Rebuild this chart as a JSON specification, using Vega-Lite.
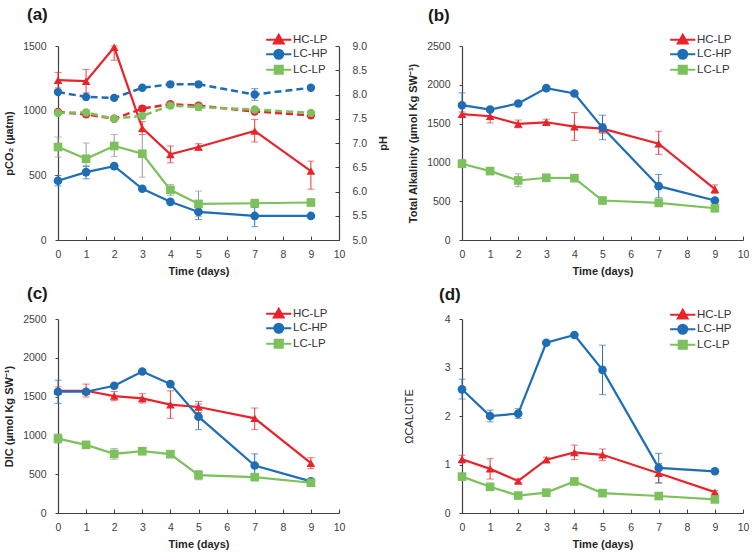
{
  "$schema": "https://vega.github.io/schema/vega-lite/v6.json",
  "padding": {"left": 3, "top": 6, "right": 0, "bottom": 2},
  "background": "white",
  "config": {
    "font": "Liberation Sans",
    "view": {"stroke": null},
    "axis": {"grid": false, "labelFont": "Liberation Sans", "labelFontSize": 10.5, "labelColor": "#404040", "titleFont": "Liberation Sans", "titleFontSize": 11, "titleFontWeight": "bold", "titleColor": "#262626", "domainColor": "#404040", "tickColor": "#404040", "domainWidth": 1.2, "tickWidth": 1, "labelOverlap": false, "labelFlush": false},
    "axisX": {"tickSize": -4, "labelPadding": 13, "titlePadding": 6},
    "axisY": {"tickSize": 3, "labelPadding": 9, "titlePadding": 8},
    "legend": {"orient": "none", "title": null, "labelFontSize": 11.5, "labelColor": "#333333", "labelFont": "Liberation Sans", "symbolSize": 81, "symbolStrokeWidth": 2, "rowPadding": -2.5, "labelOffset": 8.5},
    "title": {"font": "Liberation Sans", "fontSize": 17, "fontWeight": "bold", "color": "#1a1a1a", "anchor": "start", "frame": "group"}
  },
  "datasets": {
    "main": [
      {"p":"a","s":"HC-LP","t":0,"v":1236,"lo":1176,"hi":1296},{"p":"a","s":"HC-LP","t":1,"v":1228,"lo":1138,"hi":1318},{"p":"a","s":"HC-LP","t":2,"v":1490,"lo":1390,"hi":1500},{"p":"a","s":"HC-LP","t":3,"v":865,"lo":815,"hi":915},{"p":"a","s":"HC-LP","t":4,"v":662,"lo":597,"hi":727},{"p":"a","s":"HC-LP","t":5,"v":719,"lo":694,"hi":744},{"p":"a","s":"HC-LP","t":7,"v":843,"lo":758,"hi":931},{"p":"a","s":"HC-LP","t":9,"v":533,"lo":393,"hi":610},
      {"p":"a","s":"LC-HP","t":0,"v":458,"lo":418,"hi":498},{"p":"a","s":"LC-HP","t":1,"v":525,"lo":473,"hi":569},{"p":"a","s":"LC-HP","t":2,"v":571,"lo":560,"hi":582},{"p":"a","s":"LC-HP","t":3,"v":396,"lo":390,"hi":402},{"p":"a","s":"LC-HP","t":4,"v":295,"lo":288,"hi":302},{"p":"a","s":"LC-HP","t":5,"v":217,"lo":158,"hi":276},{"p":"a","s":"LC-HP","t":7,"v":186,"lo":103,"hi":253},{"p":"a","s":"LC-HP","t":9,"v":186,"lo":180,"hi":192},
      {"p":"a","s":"LC-LP","t":0,"v":719,"lo":641,"hi":796},{"p":"a","s":"LC-LP","t":1,"v":628,"lo":573,"hi":750},{"p":"a","s":"LC-LP","t":2,"v":727,"lo":646,"hi":815},{"p":"a","s":"LC-LP","t":3,"v":667,"lo":486,"hi":835},{"p":"a","s":"LC-LP","t":4,"v":388,"lo":345,"hi":430},{"p":"a","s":"LC-LP","t":5,"v":279,"lo":180,"hi":378},{"p":"a","s":"LC-LP","t":7,"v":284,"lo":255,"hi":315},{"p":"a","s":"LC-LP","t":9,"v":290,"lo":285,"hi":295},
      {"p":"b","s":"HC-LP","t":0,"v":1621,"lo":1590,"hi":1650},{"p":"b","s":"HC-LP","t":1,"v":1595,"lo":1509,"hi":1680},{"p":"b","s":"HC-LP","t":2,"v":1496,"lo":1446,"hi":1546},{"p":"b","s":"HC-LP","t":3,"v":1517,"lo":1477,"hi":1557},{"p":"b","s":"HC-LP","t":4,"v":1461,"lo":1284,"hi":1642},{"p":"b","s":"HC-LP","t":5,"v":1435,"lo":1375,"hi":1495},{"p":"b","s":"HC-LP","t":7,"v":1241,"lo":1103,"hi":1401},{"p":"b","s":"HC-LP","t":9,"v":655,"lo":600,"hi":710},
      {"p":"b","s":"LC-HP","t":0,"v":1737,"lo":1577,"hi":1897},{"p":"b","s":"LC-HP","t":1,"v":1681,"lo":1665,"hi":1697},{"p":"b","s":"LC-HP","t":2,"v":1759,"lo":1745,"hi":1773},{"p":"b","s":"LC-HP","t":3,"v":1957,"lo":1940,"hi":1974},{"p":"b","s":"LC-HP","t":4,"v":1888,"lo":1873,"hi":1903},{"p":"b","s":"LC-HP","t":5,"v":1448,"lo":1293,"hi":1608},{"p":"b","s":"LC-HP","t":7,"v":694,"lo":545,"hi":845},{"p":"b","s":"LC-HP","t":9,"v":509,"lo":495,"hi":523},
      {"p":"b","s":"LC-LP","t":0,"v":983,"lo":933,"hi":1033},{"p":"b","s":"LC-LP","t":1,"v":888,"lo":875,"hi":901},{"p":"b","s":"LC-LP","t":2,"v":767,"lo":687,"hi":853},{"p":"b","s":"LC-LP","t":3,"v":802,"lo":790,"hi":814},{"p":"b","s":"LC-LP","t":4,"v":797,"lo":785,"hi":809},{"p":"b","s":"LC-LP","t":5,"v":509,"lo":480,"hi":540},{"p":"b","s":"LC-LP","t":7,"v":478,"lo":465,"hi":491},{"p":"b","s":"LC-LP","t":9,"v":409,"lo":395,"hi":423},
      {"p":"c","s":"HC-LP","t":0,"v":1575,"lo":1525,"hi":1625},{"p":"c","s":"HC-LP","t":1,"v":1575,"lo":1495,"hi":1661},{"p":"c","s":"HC-LP","t":2,"v":1507,"lo":1447,"hi":1567},{"p":"c","s":"HC-LP","t":3,"v":1477,"lo":1417,"hi":1537},{"p":"c","s":"HC-LP","t":4,"v":1396,"lo":1220,"hi":1575},{"p":"c","s":"HC-LP","t":5,"v":1366,"lo":1296,"hi":1436},{"p":"c","s":"HC-LP","t":7,"v":1220,"lo":1074,"hi":1353},{"p":"c","s":"HC-LP","t":9,"v":642,"lo":572,"hi":712},
      {"p":"c","s":"LC-HP","t":0,"v":1563,"lo":1413,"hi":1712},{"p":"c","s":"LC-HP","t":1,"v":1563,"lo":1545,"hi":1580},{"p":"c","s":"LC-HP","t":2,"v":1640,"lo":1625,"hi":1655},{"p":"c","s":"LC-HP","t":3,"v":1824,"lo":1800,"hi":1848},{"p":"c","s":"LC-HP","t":4,"v":1661,"lo":1646,"hi":1676},{"p":"c","s":"LC-HP","t":5,"v":1241,"lo":1074,"hi":1404},{"p":"c","s":"LC-HP","t":7,"v":612,"lo":462,"hi":762},{"p":"c","s":"LC-HP","t":9,"v":407,"lo":395,"hi":419},
      {"p":"c","s":"LC-LP","t":0,"v":959,"lo":899,"hi":1019},{"p":"c","s":"LC-LP","t":1,"v":878,"lo":865,"hi":891},{"p":"c","s":"LC-LP","t":2,"v":762,"lo":692,"hi":832},{"p":"c","s":"LC-LP","t":3,"v":796,"lo":784,"hi":808},{"p":"c","s":"LC-LP","t":4,"v":758,"lo":745,"hi":771},{"p":"c","s":"LC-LP","t":5,"v":488,"lo":428,"hi":548},{"p":"c","s":"LC-LP","t":7,"v":462,"lo":450,"hi":474},{"p":"c","s":"LC-LP","t":9,"v":390,"lo":378,"hi":402},
      {"p":"d","s":"HC-LP","t":0,"v":1.11,"lo":1.03,"hi":1.19},{"p":"d","s":"HC-LP","t":1,"v":0.91,"lo":0.70,"hi":1.12},{"p":"d","s":"HC-LP","t":2,"v":0.66,"lo":0.62,"hi":0.70},{"p":"d","s":"HC-LP","t":3,"v":1.10,"lo":1.05,"hi":1.15},{"p":"d","s":"HC-LP","t":4,"v":1.25,"lo":1.10,"hi":1.40},{"p":"d","s":"HC-LP","t":5,"v":1.20,"lo":1.08,"hi":1.32},{"p":"d","s":"HC-LP","t":7,"v":0.82,"lo":0.62,"hi":1.02},{"p":"d","s":"HC-LP","t":9,"v":0.43,"lo":0.40,"hi":0.46},
      {"p":"d","s":"LC-HP","t":0,"v":2.55,"lo":2.35,"hi":2.76},{"p":"d","s":"LC-HP","t":1,"v":2.00,"lo":1.88,"hi":2.12},{"p":"d","s":"LC-HP","t":2,"v":2.05,"lo":1.95,"hi":2.15},{"p":"d","s":"LC-HP","t":3,"v":3.51,"lo":3.48,"hi":3.54},{"p":"d","s":"LC-HP","t":4,"v":3.67,"lo":3.64,"hi":3.70},{"p":"d","s":"LC-HP","t":5,"v":2.95,"lo":2.44,"hi":3.46},{"p":"d","s":"LC-HP","t":7,"v":0.93,"lo":0.62,"hi":1.23},{"p":"d","s":"LC-HP","t":9,"v":0.86,"lo":0.83,"hi":0.89},
      {"p":"d","s":"LC-LP","t":0,"v":0.75,"lo":0.70,"hi":0.80},{"p":"d","s":"LC-LP","t":1,"v":0.54,"lo":0.51,"hi":0.57},{"p":"d","s":"LC-LP","t":2,"v":0.36,"lo":0.33,"hi":0.39},{"p":"d","s":"LC-LP","t":3,"v":0.42,"lo":0.39,"hi":0.45},{"p":"d","s":"LC-LP","t":4,"v":0.65,"lo":0.62,"hi":0.68},{"p":"d","s":"LC-LP","t":5,"v":0.41,"lo":0.38,"hi":0.44},{"p":"d","s":"LC-LP","t":7,"v":0.35,"lo":0.32,"hi":0.38},{"p":"d","s":"LC-LP","t":9,"v":0.28,"lo":0.25,"hi":0.31}
    ],
    "ph": [
      {"s":"HC-LP","t":0,"v":7.64,"lo":7.61,"hi":7.67},{"s":"HC-LP","t":1,"v":7.59,"lo":7.56,"hi":7.62},{"s":"HC-LP","t":2,"v":7.50,"lo":7.47,"hi":7.53},{"s":"HC-LP","t":3,"v":7.71,"lo":7.66,"hi":7.76},{"s":"HC-LP","t":4,"v":7.80,"lo":7.77,"hi":7.83},{"s":"HC-LP","t":5,"v":7.77,"lo":7.72,"hi":7.82},{"s":"HC-LP","t":7,"v":7.65,"lo":7.62,"hi":7.68},{"s":"HC-LP","t":9,"v":7.57,"lo":7.55,"hi":7.59},
      {"s":"LC-HP","t":0,"v":8.05,"lo":8.02,"hi":8.08},{"s":"LC-HP","t":1,"v":7.95,"lo":7.92,"hi":7.98},{"s":"LC-HP","t":2,"v":7.93,"lo":7.90,"hi":7.96},{"s":"LC-HP","t":3,"v":8.14,"lo":8.11,"hi":8.17},{"s":"LC-HP","t":4,"v":8.21,"lo":8.18,"hi":8.24},{"s":"LC-HP","t":5,"v":8.21,"lo":8.17,"hi":8.25},{"s":"LC-HP","t":7,"v":8.00,"lo":7.88,"hi":8.12},{"s":"LC-HP","t":9,"v":8.14,"lo":8.11,"hi":8.17},
      {"s":"LC-LP","t":0,"v":7.62,"lo":7.59,"hi":7.65},{"s":"LC-LP","t":1,"v":7.63,"lo":7.58,"hi":7.68},{"s":"LC-LP","t":2,"v":7.50,"lo":7.47,"hi":7.53},{"s":"LC-LP","t":3,"v":7.56,"lo":7.50,"hi":7.62},{"s":"LC-LP","t":4,"v":7.77,"lo":7.74,"hi":7.80},{"s":"LC-LP","t":5,"v":7.74,"lo":7.67,"hi":7.80},{"s":"LC-LP","t":7,"v":7.69,"lo":7.65,"hi":7.72},{"s":"LC-LP","t":9,"v":7.62,"lo":7.59,"hi":7.65}
    ]
  },
  "columns": 2,
  "spacing": {"row": 8, "column": 14},
  "resolve": {"scale": {"color": "independent", "shape": "independent"}, "legend": {"color": "independent", "shape": "independent"}},
  "concat": [
    {
      "width": 281, "height": 194,
      "title": {"text": "(a)", "dx": -31, "offset": 10},
      "encoding": {"x": {"field": "t", "type": "quantitative", "title": "Time (days)", "scale": {"domain": [0, 10], "nice": false}, "axis": {"values": [0,1,2,3,4,5,6,7,8,9,10]}}},
      "resolve": {"scale": {"y": "independent"}},
      "layer": [
        {
          "data": {"name": "main"},
          "transform": [{"filter": "datum.p === 'a'"}],
          "layer": [
            {"mark": {"type": "rule", "strokeWidth": 1}, "encoding": {"y": {"field": "lo", "type": "quantitative", "title": "pCO₂ (µatm)", "scale": {"domain": [0, 1500], "nice": false}, "axis": {"values": [0, 500, 1000, 1500], "format": "d"}}, "y2": {"field": "hi"}, "color": {"condition": [{"test": "datum.s === 'HC-LP'", "value": "#E5393B"}, {"test": "datum.s === 'LC-HP'", "value": "#2A74B8"}], "value": "#999999"}}},
            {"mark": {"type": "tick", "orient": "horizontal", "size": 7, "thickness": 1}, "encoding": {"y": {"field": "lo", "type": "quantitative", "title": "pCO₂ (µatm)", "axis": {"values": [0, 500, 1000, 1500], "format": "d"}}, "color": {"condition": [{"test": "datum.s === 'HC-LP'", "value": "#E5393B"}, {"test": "datum.s === 'LC-HP'", "value": "#2A74B8"}], "value": "#999999"}}},
            {"mark": {"type": "tick", "orient": "horizontal", "size": 7, "thickness": 1}, "encoding": {"y": {"field": "hi", "type": "quantitative", "title": "pCO₂ (µatm)", "axis": {"values": [0, 500, 1000, 1500], "format": "d"}}, "color": {"condition": [{"test": "datum.s === 'HC-LP'", "value": "#E5393B"}, {"test": "datum.s === 'LC-HP'", "value": "#2A74B8"}], "value": "#999999"}}},
            {"mark": {"type": "line", "strokeWidth": 2.2}, "encoding": {"y": {"field": "v", "type": "quantitative", "title": "pCO₂ (µatm)", "axis": {"values": [0, 500, 1000, 1500], "format": "d"}}, "color": {"field": "s", "type": "nominal", "scale": {"domain": ["HC-LP", "LC-HP", "LC-LP"], "range": ["#E8242B", "#1F6DB5", "#7CC15B"]}, "legend": {"legendX": 215, "legendY": -12}}}},
            {"mark": {"type": "point", "filled": true, "size": 75, "opacity": 1}, "encoding": {"y": {"field": "v", "type": "quantitative", "title": "pCO₂ (µatm)", "axis": {"values": [0, 500, 1000, 1500], "format": "d"}}, "shape": {"condition": [{"test": "datum.s === 'HC-LP'", "value": "triangle-up"}, {"test": "datum.s === 'LC-HP'", "value": "circle"}], "value": "square"}, "color": {"field": "s", "type": "nominal", "scale": {"domain": ["HC-LP", "LC-HP", "LC-LP"], "range": ["#E8242B", "#1F6DB5", "#7CC15B"]}, "legend": {"legendX": 215, "legendY": -12}}}},
            {"transform": [{"filter": "datum.t < 0"}], "mark": {"type": "point", "filled": true, "size": 81, "opacity": 1}, "encoding": {"y": {"field": "v", "type": "quantitative", "title": "pCO₂ (µatm)", "axis": {"values": [0, 500, 1000, 1500], "format": "d"}}, "shape": {"field": "s", "type": "nominal", "scale": {"domain": ["HC-LP", "LC-HP", "LC-LP"], "range": ["M-2.8,0H2.8M0,-1.1L1.1,0.85L-1.1,0.85Z", "M-2.8,0H2.8M1,0A1,1,0,1,1,-1,0A1,1,0,1,1,1,0Z", "M-2.8,0H2.8M-0.9,-0.9H0.9V0.9H-0.9Z"]}, "legend": {"legendX": 215, "legendY": -12}}, "color": {"field": "s", "type": "nominal", "scale": {"domain": ["HC-LP", "LC-HP", "LC-LP"], "range": ["#E8242B", "#1F6DB5", "#7CC15B"]}, "legend": {"legendX": 215, "legendY": -12}}}}
          ]
        },
        {
          "data": {"name": "ph"},
          "layer": [
            {"mark": {"type": "rule", "strokeWidth": 1}, "encoding": {"y": {"field": "lo", "type": "quantitative", "title": "pH", "scale": {"domain": [5, 9], "nice": false}, "axis": {"orient": "right", "values": [5, 5.5, 6, 6.5, 7, 7.5, 8, 8.5, 9], "format": ".1f", "tickSize": -4, "labelPadding": 17, "titlePadding": 11, "titleAngle": 270, "titleBaseline": "top"}}, "y2": {"field": "hi"}, "color": {"condition": [{"test": "datum.s === 'HC-LP'", "value": "#E5393B"}, {"test": "datum.s === 'LC-HP'", "value": "#2A74B8"}], "value": "#999999"}}},
            {"mark": {"type": "tick", "orient": "horizontal", "size": 7, "thickness": 1}, "encoding": {"y": {"field": "lo", "type": "quantitative", "title": "pH", "axis": {"orient": "right", "values": [5, 5.5, 6, 6.5, 7, 7.5, 8, 8.5, 9], "format": ".1f", "tickSize": -4, "labelPadding": 17, "titlePadding": 11, "titleAngle": 270, "titleBaseline": "top"}}, "color": {"condition": [{"test": "datum.s === 'HC-LP'", "value": "#E5393B"}, {"test": "datum.s === 'LC-HP'", "value": "#2A74B8"}], "value": "#999999"}}},
            {"mark": {"type": "tick", "orient": "horizontal", "size": 7, "thickness": 1}, "encoding": {"y": {"field": "hi", "type": "quantitative", "title": "pH", "axis": {"orient": "right", "values": [5, 5.5, 6, 6.5, 7, 7.5, 8, 8.5, 9], "format": ".1f", "tickSize": -4, "labelPadding": 17, "titlePadding": 11, "titleAngle": 270, "titleBaseline": "top"}}, "color": {"condition": [{"test": "datum.s === 'HC-LP'", "value": "#E5393B"}, {"test": "datum.s === 'LC-HP'", "value": "#2A74B8"}], "value": "#999999"}}},
            {"mark": {"type": "line", "strokeWidth": 2.5, "strokeDash": [7, 4]}, "encoding": {"y": {"field": "v", "type": "quantitative", "title": "pH", "axis": {"orient": "right", "values": [5, 5.5, 6, 6.5, 7, 7.5, 8, 8.5, 9], "format": ".1f", "tickSize": -4, "labelPadding": 17, "titlePadding": 11, "titleAngle": 270, "titleBaseline": "top"}}, "color": {"field": "s", "type": "nominal", "scale": {"domain": ["HC-LP", "LC-HP", "LC-LP"], "range": ["#E8242B", "#1F6DB5", "#7CC15B"]}, "legend": {"legendX": 215, "legendY": -12}}}},
            {"mark": {"type": "point", "filled": true, "size": 70, "opacity": 1, "shape": "circle"}, "encoding": {"y": {"field": "v", "type": "quantitative", "title": "pH", "axis": {"orient": "right", "values": [5, 5.5, 6, 6.5, 7, 7.5, 8, 8.5, 9], "format": ".1f", "tickSize": -4, "labelPadding": 17, "titlePadding": 11, "titleAngle": 270, "titleBaseline": "top"}}, "color": {"field": "s", "type": "nominal", "scale": {"domain": ["HC-LP", "LC-HP", "LC-LP"], "range": ["#E8242B", "#1F6DB5", "#7CC15B"]}, "legend": {"legendX": 215, "legendY": -12}}}}
          ]
        }
      ]
    },
    {
      "width": 281, "height": 194,
      "title": {"text": "(b)", "dx": -34, "offset": 9},
      "data": {"name": "main"},
      "transform": [{"filter": "datum.p === 'b'"}],
      "encoding": {"x": {"field": "t", "type": "quantitative", "title": "Time (days)", "scale": {"domain": [0, 10], "nice": false}, "axis": {"values": [0,1,2,3,4,5,6,7,8,9,10]}}},
      "layer": [
        {"mark": {"type": "rule", "strokeWidth": 1}, "encoding": {"y": {"field": "lo", "type": "quantitative", "title": "Total Alkalinity (µmol Kg SW⁻¹)", "scale": {"domain": [0, 2500], "nice": false}, "axis": {"values": [0, 500, 1000, 1500, 2000, 2500], "format": "d"}}, "y2": {"field": "hi"}, "color": {"condition": [{"test": "datum.s === 'HC-LP'", "value": "#E5393B"}, {"test": "datum.s === 'LC-HP'", "value": "#2A74B8"}], "value": "#999999"}}},
        {"mark": {"type": "tick", "orient": "horizontal", "size": 7, "thickness": 1}, "encoding": {"y": {"field": "lo", "type": "quantitative", "title": "Total Alkalinity (µmol Kg SW⁻¹)", "axis": {"values": [0, 500, 1000, 1500, 2000, 2500], "format": "d"}}, "color": {"condition": [{"test": "datum.s === 'HC-LP'", "value": "#E5393B"}, {"test": "datum.s === 'LC-HP'", "value": "#2A74B8"}], "value": "#999999"}}},
        {"mark": {"type": "tick", "orient": "horizontal", "size": 7, "thickness": 1}, "encoding": {"y": {"field": "hi", "type": "quantitative", "title": "Total Alkalinity (µmol Kg SW⁻¹)", "axis": {"values": [0, 500, 1000, 1500, 2000, 2500], "format": "d"}}, "color": {"condition": [{"test": "datum.s === 'HC-LP'", "value": "#E5393B"}, {"test": "datum.s === 'LC-HP'", "value": "#2A74B8"}], "value": "#999999"}}},
        {"mark": {"type": "line", "strokeWidth": 2.2}, "encoding": {"y": {"field": "v", "type": "quantitative", "title": "Total Alkalinity (µmol Kg SW⁻¹)", "axis": {"values": [0, 500, 1000, 1500, 2000, 2500], "format": "d"}}, "color": {"field": "s", "type": "nominal", "scale": {"domain": ["HC-LP", "LC-HP", "LC-LP"], "range": ["#E8242B", "#1F6DB5", "#7CC15B"]}, "legend": {"legendX": 215, "legendY": -12}}}},
        {"mark": {"type": "point", "filled": true, "size": 75, "opacity": 1}, "encoding": {"y": {"field": "v", "type": "quantitative", "title": "Total Alkalinity (µmol Kg SW⁻¹)", "axis": {"values": [0, 500, 1000, 1500, 2000, 2500], "format": "d"}}, "shape": {"condition": [{"test": "datum.s === 'HC-LP'", "value": "triangle-up"}, {"test": "datum.s === 'LC-HP'", "value": "circle"}], "value": "square"}, "color": {"field": "s", "type": "nominal", "scale": {"domain": ["HC-LP", "LC-HP", "LC-LP"], "range": ["#E8242B", "#1F6DB5", "#7CC15B"]}, "legend": {"legendX": 215, "legendY": -12}}}},
        {"transform": [{"filter": "datum.t < 0"}], "mark": {"type": "point", "filled": true, "size": 81, "opacity": 1}, "encoding": {"y": {"field": "v", "type": "quantitative", "title": "Total Alkalinity (µmol Kg SW⁻¹)", "axis": {"values": [0, 500, 1000, 1500, 2000, 2500], "format": "d"}}, "shape": {"field": "s", "type": "nominal", "scale": {"domain": ["HC-LP", "LC-HP", "LC-LP"], "range": ["M-2.8,0H2.8M0,-1.1L1.1,0.85L-1.1,0.85Z", "M-2.8,0H2.8M1,0A1,1,0,1,1,-1,0A1,1,0,1,1,1,0Z", "M-2.8,0H2.8M-0.9,-0.9H0.9V0.9H-0.9Z"]}, "legend": {"legendX": 215, "legendY": -12}}, "color": {"field": "s", "type": "nominal", "scale": {"domain": ["HC-LP", "LC-HP", "LC-LP"], "range": ["#E8242B", "#1F6DB5", "#7CC15B"]}, "legend": {"legendX": 215, "legendY": -12}}}}
      ]
    },
    {
      "width": 281, "height": 194,
      "title": {"text": "(c)", "dx": -31, "offset": 5},
      "data": {"name": "main"},
      "transform": [{"filter": "datum.p === 'c'"}],
      "encoding": {"x": {"field": "t", "type": "quantitative", "title": "Time (days)", "scale": {"domain": [0, 10], "nice": false}, "axis": {"values": [0,1,2,3,4,5,6,7,8,9,10]}}},
      "layer": [
        {"mark": {"type": "rule", "strokeWidth": 1}, "encoding": {"y": {"field": "lo", "type": "quantitative", "title": "DIC (µmol Kg SW⁻¹)", "scale": {"domain": [0, 2500], "nice": false}, "axis": {"values": [0, 500, 1000, 1500, 2000, 2500], "format": "d"}}, "y2": {"field": "hi"}, "color": {"condition": [{"test": "datum.s === 'HC-LP'", "value": "#E5393B"}, {"test": "datum.s === 'LC-HP'", "value": "#2A74B8"}], "value": "#999999"}}},
        {"mark": {"type": "tick", "orient": "horizontal", "size": 7, "thickness": 1}, "encoding": {"y": {"field": "lo", "type": "quantitative", "title": "DIC (µmol Kg SW⁻¹)", "axis": {"values": [0, 500, 1000, 1500, 2000, 2500], "format": "d"}}, "color": {"condition": [{"test": "datum.s === 'HC-LP'", "value": "#E5393B"}, {"test": "datum.s === 'LC-HP'", "value": "#2A74B8"}], "value": "#999999"}}},
        {"mark": {"type": "tick", "orient": "horizontal", "size": 7, "thickness": 1}, "encoding": {"y": {"field": "hi", "type": "quantitative", "title": "DIC (µmol Kg SW⁻¹)", "axis": {"values": [0, 500, 1000, 1500, 2000, 2500], "format": "d"}}, "color": {"condition": [{"test": "datum.s === 'HC-LP'", "value": "#E5393B"}, {"test": "datum.s === 'LC-HP'", "value": "#2A74B8"}], "value": "#999999"}}},
        {"mark": {"type": "line", "strokeWidth": 2.2}, "encoding": {"y": {"field": "v", "type": "quantitative", "title": "DIC (µmol Kg SW⁻¹)", "axis": {"values": [0, 500, 1000, 1500, 2000, 2500], "format": "d"}}, "color": {"field": "s", "type": "nominal", "scale": {"domain": ["HC-LP", "LC-HP", "LC-LP"], "range": ["#E8242B", "#1F6DB5", "#7CC15B"]}, "legend": {"legendX": 215, "legendY": -11}}}},
        {"mark": {"type": "point", "filled": true, "size": 75, "opacity": 1}, "encoding": {"y": {"field": "v", "type": "quantitative", "title": "DIC (µmol Kg SW⁻¹)", "axis": {"values": [0, 500, 1000, 1500, 2000, 2500], "format": "d"}}, "shape": {"condition": [{"test": "datum.s === 'HC-LP'", "value": "triangle-up"}, {"test": "datum.s === 'LC-HP'", "value": "circle"}], "value": "square"}, "color": {"field": "s", "type": "nominal", "scale": {"domain": ["HC-LP", "LC-HP", "LC-LP"], "range": ["#E8242B", "#1F6DB5", "#7CC15B"]}, "legend": {"legendX": 215, "legendY": -11}}}},
        {"transform": [{"filter": "datum.t < 0"}], "mark": {"type": "point", "filled": true, "size": 81, "opacity": 1}, "encoding": {"y": {"field": "v", "type": "quantitative", "title": "DIC (µmol Kg SW⁻¹)", "axis": {"values": [0, 500, 1000, 1500, 2000, 2500], "format": "d"}}, "shape": {"field": "s", "type": "nominal", "scale": {"domain": ["HC-LP", "LC-HP", "LC-LP"], "range": ["M-2.8,0H2.8M0,-1.1L1.1,0.85L-1.1,0.85Z", "M-2.8,0H2.8M1,0A1,1,0,1,1,-1,0A1,1,0,1,1,1,0Z", "M-2.8,0H2.8M-0.9,-0.9H0.9V0.9H-0.9Z"]}, "legend": {"legendX": 215, "legendY": -11}}, "color": {"field": "s", "type": "nominal", "scale": {"domain": ["HC-LP", "LC-HP", "LC-LP"], "range": ["#E8242B", "#1F6DB5", "#7CC15B"]}, "legend": {"legendX": 215, "legendY": -11}}}}
      ]
    },
    {
      "width": 281, "height": 194,
      "title": {"text": "(d)", "dx": -23, "offset": 5},
      "data": {"name": "main"},
      "transform": [{"filter": "datum.p === 'd'"}],
      "encoding": {"x": {"field": "t", "type": "quantitative", "title": "Time (days)", "scale": {"domain": [0, 10], "nice": false}, "axis": {"values": [0,1,2,3,4,5,6,7,8,9,10]}}},
      "layer": [
        {"mark": {"type": "rule", "strokeWidth": 1}, "encoding": {"y": {"field": "lo", "type": "quantitative", "title": "ΩCALCITE", "scale": {"domain": [0, 4], "nice": false}, "axis": {"values": [0, 1, 2, 3, 4], "format": "d", "titlePadding": 30, "titleFontWeight": "normal"}}, "y2": {"field": "hi"}, "color": {"condition": [{"test": "datum.s === 'HC-LP'", "value": "#E5393B"}, {"test": "datum.s === 'LC-HP'", "value": "#2A74B8"}], "value": "#999999"}}},
        {"mark": {"type": "tick", "orient": "horizontal", "size": 7, "thickness": 1}, "encoding": {"y": {"field": "lo", "type": "quantitative", "title": "ΩCALCITE", "axis": {"values": [0, 1, 2, 3, 4], "format": "d", "titlePadding": 30, "titleFontWeight": "normal"}}, "color": {"condition": [{"test": "datum.s === 'HC-LP'", "value": "#E5393B"}, {"test": "datum.s === 'LC-HP'", "value": "#2A74B8"}], "value": "#999999"}}},
        {"mark": {"type": "tick", "orient": "horizontal", "size": 7, "thickness": 1}, "encoding": {"y": {"field": "hi", "type": "quantitative", "title": "ΩCALCITE", "axis": {"values": [0, 1, 2, 3, 4], "format": "d", "titlePadding": 30, "titleFontWeight": "normal"}}, "color": {"condition": [{"test": "datum.s === 'HC-LP'", "value": "#E5393B"}, {"test": "datum.s === 'LC-HP'", "value": "#2A74B8"}], "value": "#999999"}}},
        {"mark": {"type": "line", "strokeWidth": 2.2}, "encoding": {"y": {"field": "v", "type": "quantitative", "title": "ΩCALCITE", "axis": {"values": [0, 1, 2, 3, 4], "format": "d", "titlePadding": 30, "titleFontWeight": "normal"}}, "color": {"field": "s", "type": "nominal", "scale": {"domain": ["HC-LP", "LC-HP", "LC-LP"], "range": ["#E8242B", "#1F6DB5", "#7CC15B"]}, "legend": {"legendX": 215, "legendY": -10}}}},
        {"mark": {"type": "point", "filled": true, "size": 75, "opacity": 1}, "encoding": {"y": {"field": "v", "type": "quantitative", "title": "ΩCALCITE", "axis": {"values": [0, 1, 2, 3, 4], "format": "d", "titlePadding": 30, "titleFontWeight": "normal"}}, "shape": {"condition": [{"test": "datum.s === 'HC-LP'", "value": "triangle-up"}, {"test": "datum.s === 'LC-HP'", "value": "circle"}], "value": "square"}, "color": {"field": "s", "type": "nominal", "scale": {"domain": ["HC-LP", "LC-HP", "LC-LP"], "range": ["#E8242B", "#1F6DB5", "#7CC15B"]}, "legend": {"legendX": 215, "legendY": -10}}}},
        {"transform": [{"filter": "datum.t < 0"}], "mark": {"type": "point", "filled": true, "size": 81, "opacity": 1}, "encoding": {"y": {"field": "v", "type": "quantitative", "title": "ΩCALCITE", "axis": {"values": [0, 1, 2, 3, 4], "format": "d", "titlePadding": 30, "titleFontWeight": "normal"}}, "shape": {"field": "s", "type": "nominal", "scale": {"domain": ["HC-LP", "LC-HP", "LC-LP"], "range": ["M-2.8,0H2.8M0,-1.1L1.1,0.85L-1.1,0.85Z", "M-2.8,0H2.8M1,0A1,1,0,1,1,-1,0A1,1,0,1,1,1,0Z", "M-2.8,0H2.8M-0.9,-0.9H0.9V0.9H-0.9Z"]}, "legend": {"legendX": 215, "legendY": -10}}, "color": {"field": "s", "type": "nominal", "scale": {"domain": ["HC-LP", "LC-HP", "LC-LP"], "range": ["#E8242B", "#1F6DB5", "#7CC15B"]}, "legend": {"legendX": 215, "legendY": -10}}}}
      ]
    }
  ]
}
